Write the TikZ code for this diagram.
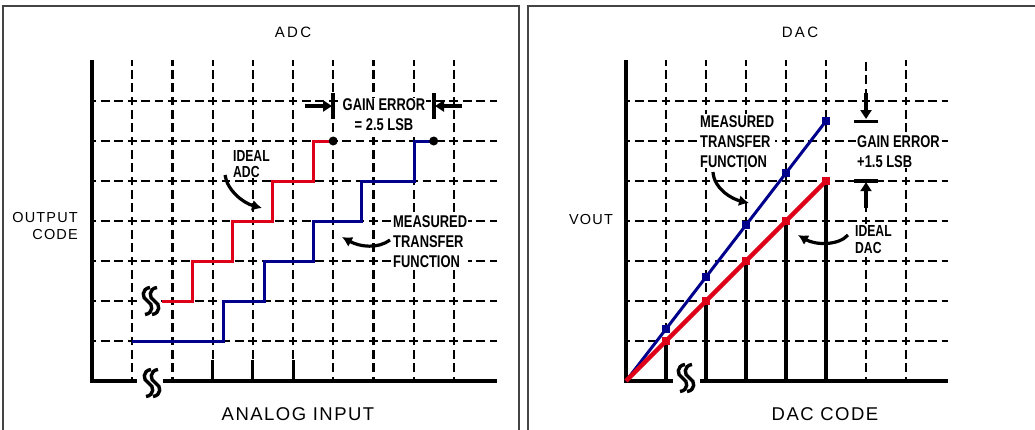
\documentclass[tikz,border=0pt]{standalone}
\usepackage{fontspec}
\usepackage{graphicx}
\setmainfont{Liberation Sans}
\newfontfamily\spcfont[LetterSpace=8]{Liberation Sans}
\newfontfamily\ttlfont[LetterSpace=16]{Liberation Sans}
\usetikzlibrary{arrows.meta}
\definecolor{framegray}{RGB}{68,68,68}
\definecolor{idealred}{RGB}{222,0,24}
\definecolor{measblue}{RGB}{0,0,140}
\newcommand{\cnd}[1]{\scalebox{0.76}[1]{#1}}
\begin{document}
\begin{tikzpicture}[x=1pt,y=-1pt,
  frame/.style={draw=framegray,line width=2pt},
  axisline/.style={line width=3.8pt},
  hgA/.style={line width=2.2pt,dash pattern=on 8.9pt off 4.5pt,dash phase=4.45pt},
  vg/.style={line width=2.2pt,dash pattern=on 8.83pt off 4.5pt,dash phase=4.42pt},
  tickmark/.style={line width=3pt},
  barline/.style={line width=3.2pt},
  redstep/.style={draw=idealred,line width=3pt},
  bluestep/.style={draw=measblue,line width=3pt},
  redline/.style={draw=idealred,line width=4.5pt},
  blueline/.style={draw=measblue,line width=3pt},
  mkR/.style={rectangle,fill=idealred,minimum size=8pt,inner sep=0pt},
  mkB/.style={rectangle,fill=measblue,minimum size=8pt,inner sep=0pt},
  ttl/.style={font=\ttlfont\fontsize{15}{18}\selectfont,inner sep=0pt},
  axlab/.style={font=\spcfont\fontsize{18.5}{22}\selectfont,inner sep=0pt},
  ylab/.style={font=\spcfont\fontsize{14.5}{17}\selectfont,inner sep=0pt},
  lbl/.style={font=\bfseries\fontsize{17}{20}\selectfont,fill=white,inner sep=1pt,align=left},
  lblS/.style={font=\bfseries\fontsize{16}{16}\selectfont,fill=white,inner sep=1pt,align=left},
  curvearrow/.style={line width=3.2pt,-{Latex[length=10pt,width=11pt]}},
  gearrow/.style={line width=3.2pt,-{Triangle[length=9pt,width=11pt]}},
  gebar/.style={line width=3.2pt},
  brk/.pic={
    \fill[white] (-10,-15) rectangle (10,15);
    \draw[line width=3.4pt] (-1,-13.5) .. controls (-9.5,-12.5) and (-9.5,-3) .. (-3.5,0) .. controls (2.5,3) and (2.5,12.5) .. (-6,13.5);
    \draw[line width=3.4pt] (6,-13.5) .. controls (-2.5,-12.5) and (-2.5,-3) .. (3.5,0) .. controls (9.5,3) and (9.5,12.5) .. (1,13.5);
  }
]
\path[use as bounding box] (0,0) rectangle (1035,429);
\clip (0,0) rectangle (1035,429);

% frames
\draw[frame] (3,6) rectangle (518.5,445);
\draw[frame] (528,6) rectangle (1045,445);

% ================= ADC =================
\begin{scope}[shift={(92,381)},x=40.2pt,y=40pt]
  \foreach \k in {1,...,7} \draw[hgA] (0,\k) -- (10.07,\k);
  \foreach \k in {1,...,9} \draw[vg] (\k,0) -- (\k,8.03);
  \foreach \k in {3,4,5} \draw[tickmark] (\k,0) -- (\k,0.52);
  \draw[axisline] (0,8.03) -- (0,0) -- (1.12,0);
  \draw[axisline] (1.77,0) -- (10.07,0);
  \draw[redstep] (1.74,2) -| (2.5,3) -| (3.5,4) -| (4.5,5) -| (5.5,6) -- (6,6);
  \draw[bluestep] (1,1) -| (3.27,2) -| (4.3,3) -| (5.5,4) -| (6.7,5) -| (8.03,6) -- (8.5,6);
  \fill (6,6) circle[radius=4.5pt];
  \fill (8.5,6) circle[radius=4.5pt];
\end{scope}

\pic at (151,301) {brk};
\pic at (152,383) {brk};

% ADC labels
\node[ttl,anchor=base] (adcT) at (293,37) {ADC};
\node[ylab,anchor=base east] (outA) at (78,222) {OUTPUT};
\node[ylab,anchor=base east] (outB) at (78,239) {CODE};
\node[axlab,anchor=base] (anIn) at (298,420) {ANALOG INPUT};
\node[lblS,anchor=north west] (idealA) at (232,149) {\cnd{IDEAL}\\\cnd{ADC}};
\node[lbl,anchor=north west] (measA) at (392,214) {\cnd{MEASURED}\\\cnd{TRANSFER}\\\cnd{FUNCTION}};
\node[lbl,anchor=north,align=center] (gainA) at (384,97.5) {\cnd{GAIN ERROR}\\\cnd{= 2.5 LSB}};

% ADC arrows
\coordinate (iaS) at (225,175);
\coordinate (iaE) at (262,208);
\draw[curvearrow] (iaS) .. controls (227,190) and (243,203) .. (iaE);
\coordinate (maS) at (390,240);
\coordinate (maE) at (342,237);
\draw[curvearrow] (maS) .. controls (378,249) and (360,247) .. (maE);
\coordinate (gL0) at (305,106);
\coordinate (gL1) at (332,106);
\coordinate (gR0) at (462,106);
\coordinate (gR1) at (435,106);
\draw[gearrow] (gL0) -- (gL1);
\draw[gearrow] (gR0) -- (gR1);
\draw[gebar] (333,93) -- (333,119);
\draw[gebar] (434,93) -- (434,119);

% ================= DAC =================
\begin{scope}[shift={(626,381)},x=40pt,y=40pt]
  \foreach \k in {1,...,7} \draw[vg] (0,\k) -- (8.05,\k);
  \foreach \k in {1,2,3,4,5,7} \draw[vg] (\k,0) -- (\k,8.03);
  \draw[vg] (6,0) -- (6,4.33);
  \draw[vg] (6,7.2) -- (6,8.03);
  \foreach \k in {1,...,5} \draw[barline] (\k,0) -- (\k,\k);
  \draw[axisline] (0,8.03) -- (0,0) -- (1.18,0);
  \draw[axisline] (1.85,0) -- (8.05,0);
  \coordinate (dO) at (0,0);
  \coordinate (dRend) at (5,5);
  \coordinate (dBend) at (5,6.5);
  \draw[blueline] (dO) -- (dBend);
  \draw[redline] (dO) -- (dRend);
  \foreach \k in {1,...,5} \node[mkB] (db\k) at (\k,1.3*\k) {};
  \foreach \k in {1,...,5} \node[mkR] (dr\k) at (\k,\k) {};
  % gain error markers
  \coordinate (gT0) at (6,7.2);
  \coordinate (gT1) at (6,6.55);
  \coordinate (gB0) at (6,4.33);
  \coordinate (gB1) at (6,4.97);
  \draw[gearrow] (gT0) -- (gT1);
  \draw[gearrow] (gB0) -- (gB1);
  \draw[gebar] (5.7,6.48) -- (6.3,6.48);
  \draw[gebar] (5.7,5) -- (6.3,5);
\end{scope}

\pic at (686,378) {brk};

% DAC labels
\node[ttl,anchor=base] (dacT) at (800,37) {DAC};
\node[ylab,anchor=base] (vout) at (591,224) {VOUT};
\node[axlab,anchor=base] (dcode) at (825,420) {DAC CODE};
\node[lbl,anchor=north west] (measD) at (699,114) {\cnd{MEASURED}\\\cnd{TRANSFER}\\\cnd{FUNCTION}};
\node[lbl,anchor=north west] (gainD) at (856,134) {\cnd{GAIN ERROR}\\\cnd{+1.5 LSB}};
\node[lblS,font=\bfseries\fontsize{16}{17}\selectfont,anchor=north west] (idealD) at (854,224) {\cnd{IDEAL}\\\cnd{DAC}};

% DAC arrows
\coordinate (mdS) at (713,172);
\coordinate (mdE) at (749,203);
\draw[curvearrow] (mdS) .. controls (714,189) and (732,199) .. (mdE);
\coordinate (idS) at (848,235);
\coordinate (idE) at (798,235);
\draw[curvearrow] (idS) .. controls (838,246) and (815,245) .. (idE);
\end{tikzpicture}
\end{document}
